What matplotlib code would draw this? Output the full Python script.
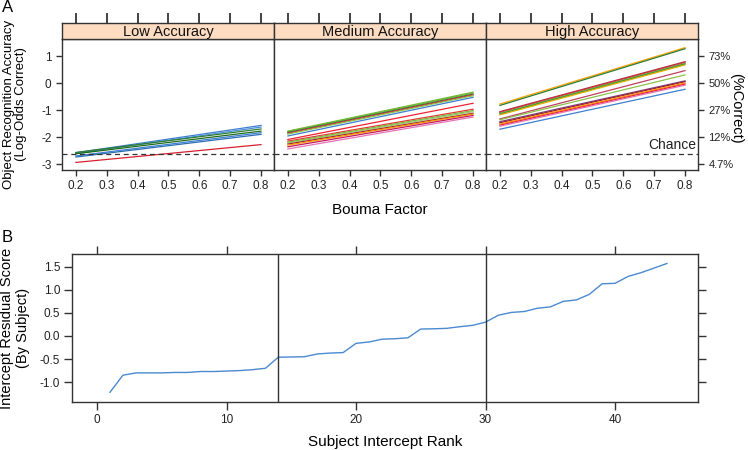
import numpy as np
import matplotlib.pyplot as plt

plt.rcParams["font.family"] = ["Liberation Sans", "DejaVu Sans"]
plt.rcParams["axes.unicode_minus"] = False

# ---- panel A data: fitted lines per subject (log-odds at Bouma 0.2 and 0.8)
panel_names = ["Low Accuracy", "Medium Accuracy", "High Accuracy"]
bouma = [0.2, 0.8]
bouma_ticks = [0.2, 0.3, 0.4, 0.5, 0.6, 0.7, 0.8]

low_start = [-2.58, -2.61, -2.57, -2.62, -2.70, -2.74, -2.94]
low_end = [-1.57, -1.63, -1.70, -1.78, -1.84, -1.90, -2.28]
low_colors = ["#3d7fd0", "#4a8fd8", "#2e7d32", "#1b6b1b", "#3d7fd0", "#2b6fb5", "#d62030"]

med_start = [-1.78, -1.80, -1.83, -1.86, -1.89, -1.96, -2.09, -2.15, -2.19,
             -2.22, -2.26, -2.30, -2.36, -2.44]
med_end = [-0.34, -0.37, -0.41, -0.44, -0.47, -0.53, -0.75, -0.97, -1.02,
           -1.06, -1.12, -1.15, -1.20, -1.26]
med_colors = ["#66bb22", "#7cb342", "#2e7d32", "#e02040", "#8bc34a", "#3d7fd0",
              "#ee2233", "#e53935", "#7cb342", "#9ccc65", "#a0202a", "#ff9800",
              "#c2185b", "#e573b5"]

high_start = [-0.78, -0.83, -1.06, -1.09, -1.12, -1.15, -1.18, -1.33, -1.36,
              -1.43, -1.47, -1.52, -1.56, -1.60, -1.71]
high_end = [1.31, 1.27, 0.79, 0.76, 0.73, 0.70, 0.67, 0.46, 0.30, 0.08,
            0.05, 0.00, -0.04, -0.08, -0.23]
high_colors = ["#ffa000", "#2e7d32", "#b03040", "#e02040", "#7cb342", "#388e3c",
               "#e0b000", "#c04060", "#8bc34a", "#7b3f7f", "#a0202a", "#ff9800",
               "#ee2233", "#e573b5", "#3d7fd0"]

chance = -2.64
pct_labels = ["73%", "50%", "27%", "12%", "4.7%"]
pct_values = [0.73, 0.50, 0.27, 0.12, 0.047]

# ---- panel B data: intercept residual by rank
rank = list(range(1, 45))
resid = [-1.22, -0.85, -0.80, -0.80, -0.80, -0.79, -0.79, -0.77, -0.77, -0.76,
         -0.75, -0.73, -0.70,
         -0.46, -0.455, -0.45, -0.39, -0.37, -0.36, -0.16, -0.13, -0.07, -0.06,
         -0.04, 0.15, 0.155, 0.165, 0.20, 0.23,
         0.30, 0.45, 0.51, 0.53, 0.60, 0.63, 0.75, 0.78, 0.90, 1.13, 1.14,
         1.29, 1.37, 1.47, 1.57]
group_breaks = [14, 30]

dark = "#333333"
W, H = 748, 450


def box(x0, y0, x1, y1):
    return [x0 / W, 1 - y1 / H, (x1 - x0) / W, (y1 - y0) / H]


def style(ax):
    for s in ax.spines.values():
        s.set_color(dark)
        s.set_linewidth(1.0)
    ax.tick_params(direction="out", length=4.5, width=1, color=dark,
                   labelcolor="#222222", labelsize=8.5, pad=3)


fig = plt.figure(figsize=(7.48, 4.5), dpi=100)

edges = [62, 274, 486, 698]
starts = [low_start, med_start, high_start]
ends = [low_end, med_end, high_end]
colors = [low_colors, med_colors, high_colors]

for i in range(3):
    ax = fig.add_axes(box(edges[i], 39, edges[i + 1], 170))
    for y0, y1, c in zip(starts[i], ends[i], colors[i]):
        ax.plot(bouma, [y0, y1], color=c, lw=0.9)
    ax.axhline(chance, color=dark, lw=0.9, ls=(0, (4, 3)))
    ax.set_xlim(0.155, 0.842)
    ax.set_ylim(-3.22, 1.63)
    ax.set_xticks(bouma_ticks)
    ax.set_xticklabels([f"{t:.1f}" for t in bouma_ticks])
    style(ax)
    ax.set_yticks([1, 0, -1, -2, -3])
    if i == 0:
        ax.set_yticklabels(["1", "0", "-1", "-2", "-3"])
        ax.tick_params(axis="y", left=True, right=False)
    elif i == 2:
        ax.tick_params(axis="y", left=False, labelleft=False, right=True, labelright=True)
        ax.set_yticks([np.log(p / (1 - p)) for p in pct_values])
        ax.set_yticklabels(pct_labels)
        ax.tick_params(axis="y", labelsize=8)
        ax.text(0.835, chance + 0.1, "Chance", ha="right", va="bottom",
                fontsize=10, color="#222222")
    else:
        ax.tick_params(axis="y", left=False, labelleft=False)

    strip = fig.add_axes(box(edges[i], 23, edges[i + 1], 39))
    strip.set_facecolor("#fddcc2")
    strip.set_xticks([])
    strip.set_yticks([])
    style(strip)
    strip.text(0.5, 0.45, panel_names[i], transform=strip.transAxes,
               ha="center", va="center", fontsize=10.5, color="#111111")

    # tick row above the strip (lattice style): its own frameless axes
    tk = fig.add_axes(box(edges[i], 13, edges[i + 1], 23))
    tk.set_xlim(0.155, 0.842)
    tk.set_ylim(0, 1)
    tk.patch.set_visible(False)
    for s in tk.spines.values():
        s.set_visible(False)
    tk.set_yticks([])
    tk.set_xticks(bouma_ticks)
    tk.tick_params(axis="x", direction="in", length=7, width=1.2, color="#222222",
                   labelbottom=False)

fig.text(380 / W, 1 - 210 / H, "Bouma Factor", ha="center", va="center", fontsize=11)
fig.text(15 / W, 1 - 104 / H, "Object Recognition Accuracy\n(Log-Odds Correct)",
         rotation=90, ha="center", va="center", fontsize=9.5, linespacing=1.1)
fig.text(736 / W, 1 - 108 / H, "(%Correct)", rotation=-90, ha="center", va="center",
         fontsize=10.5)
fig.text(2 / W, 1 - 7 / H, "A", ha="left", va="center", fontsize=12)

# ---- panel B
axb = fig.add_axes(box(72, 254, 698, 402))
axb.plot(rank, resid, color="#4a8ad0", lw=1.0)
for b in group_breaks:
    axb.axvline(b, color=dark, lw=1.0)
axb.set_xlim(-1.93, 46.4)
axb.set_ylim(-1.43, 1.775)
style(axb)
axb.set_xticks([0, 10, 20, 30, 40])
axb.set_yticks([-1.0, -0.5, 0.0, 0.5, 1.0, 1.5])
axb.set_yticklabels([f"{v:.1f}" for v in [-1.0, -0.5, 0.0, 0.5, 1.0, 1.5]])
axb.tick_params(length=5.5)
axb.tick_params(axis="x", top=True)
axb.tick_params(axis="y", right=True)

fig.text(385 / W, 1 - 442 / H, "Subject Intercept Rank", ha="center", va="center",
         fontsize=11)
fig.text(15 / W, 1 - 328 / H, "Intercept Residual Score\n(By Subject)", rotation=90,
         ha="center", va="center", fontsize=10.5, linespacing=1.1)
fig.text(2 / W, 1 - 238 / H, "B", ha="left", va="center", fontsize=12)

fig.savefig("out.png", dpi=100, facecolor="white")
